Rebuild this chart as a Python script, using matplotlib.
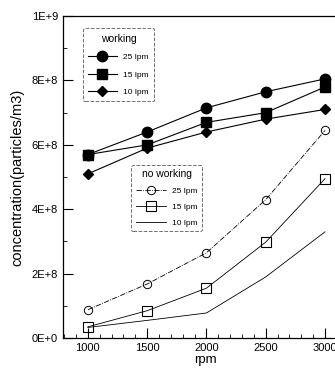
import matplotlib.pyplot as plt
from matplotlib.ticker import FuncFormatter, MultipleLocator

plt.rcParams["font.family"] = ["Liberation Sans", "DejaVu Sans"]

# rpm values
rpm = [1000, 1500, 2000, 2500, 3000]

# working (particles/m3)
work_25 = [5.7e8, 6.4e8, 7.15e8, 7.65e8, 8.05e8]
work_15 = [5.7e8, 6.0e8, 6.7e8, 7.0e8, 7.8e8]
work_10 = [5.1e8, 5.9e8, 6.4e8, 6.8e8, 7.1e8]

# no working (particles/m3)
idle_25 = [0.88e8, 1.68e8, 2.65e8, 4.3e8, 6.45e8]
idle_15 = [0.35e8, 0.85e8, 1.55e8, 2.98e8, 4.95e8]
idle_10 = [0.33e8, 0.55e8, 0.78e8, 1.9e8, 3.3e8]

y_ticklabels = ["0E+0", "2E+8", "4E+8", "6E+8", "8E+8", "1E+9"]


def sci_fmt(v, pos):
    idx = int(round(v / 2e8))
    if 0 <= idx < len(y_ticklabels):
        return y_ticklabels[idx]
    return ""


fig = plt.figure(figsize=(3.35, 3.74), dpi=100)
ax = fig.add_axes([0.188, 0.096, 0.853, 0.861])

l1, = ax.plot(rpm, work_25, "k-", marker="o", markersize=7.5, lw=0.8)
l2, = ax.plot(rpm, work_15, "k-", marker="s", markersize=7, lw=0.8)
l3, = ax.plot(rpm, work_10, "k-", marker="D", markersize=5.5, lw=0.8)

m1, = ax.plot(rpm, idle_25, "k-.", marker="o", markersize=6, mfc="none", lw=0.6, mew=0.7)
m2, = ax.plot(rpm, idle_15, "k-", marker="s", markersize=6.5, mfc="none", lw=0.6, mew=0.8)
m3, = ax.plot(rpm, idle_10, "k-", lw=0.6)

ax.set_xlim(790, 3200)
ax.set_ylim(0, 1e9)
ax.xaxis.set_major_locator(MultipleLocator(500))
ax.xaxis.set_minor_locator(MultipleLocator(100))
ax.yaxis.set_major_locator(MultipleLocator(2e8))
ax.yaxis.set_minor_locator(MultipleLocator(1e8))
ax.yaxis.set_major_formatter(FuncFormatter(sci_fmt))

ax.tick_params(which="major", direction="in", length=7, width=0.8, labelsize=8)
ax.tick_params(which="minor", direction="in", length=3, width=0.6)
for s in ax.spines.values():
    s.set_linewidth(0.9)

ax.set_xlabel("rpm", fontsize=9.5, labelpad=1)
ax.set_ylabel("concentration(particles/m3)", fontsize=10.5, labelpad=5)

leg1 = ax.legend([l1, l2, l3], ["25 lpm", "15 lpm", "10 lpm"], title="working",
                 loc="upper left", bbox_to_anchor=(0.055, 0.975), fontsize=6,
                 title_fontsize=7.5, frameon=True, fancybox=True, edgecolor="0.3",
                 handlelength=3.4, labelspacing=1.15, borderpad=0.65)
leg1.get_frame().set_linestyle("--")
leg1.get_frame().set_linewidth(0.7)
ax.add_artist(leg1)

leg2 = ax.legend([m1, m2, m3], ["25 lpm", "15 lpm", "10 lpm"], title="no working",
                 loc="upper left", bbox_to_anchor=(0.225, 0.55), fontsize=6,
                 title_fontsize=7.5, frameon=True, fancybox=True, edgecolor="0.3",
                 handlelength=3.6, labelspacing=0.95, borderpad=0.5)
leg2.get_frame().set_linestyle("--")
leg2.get_frame().set_linewidth(0.7)

fig.savefig("out.png", dpi=100)
